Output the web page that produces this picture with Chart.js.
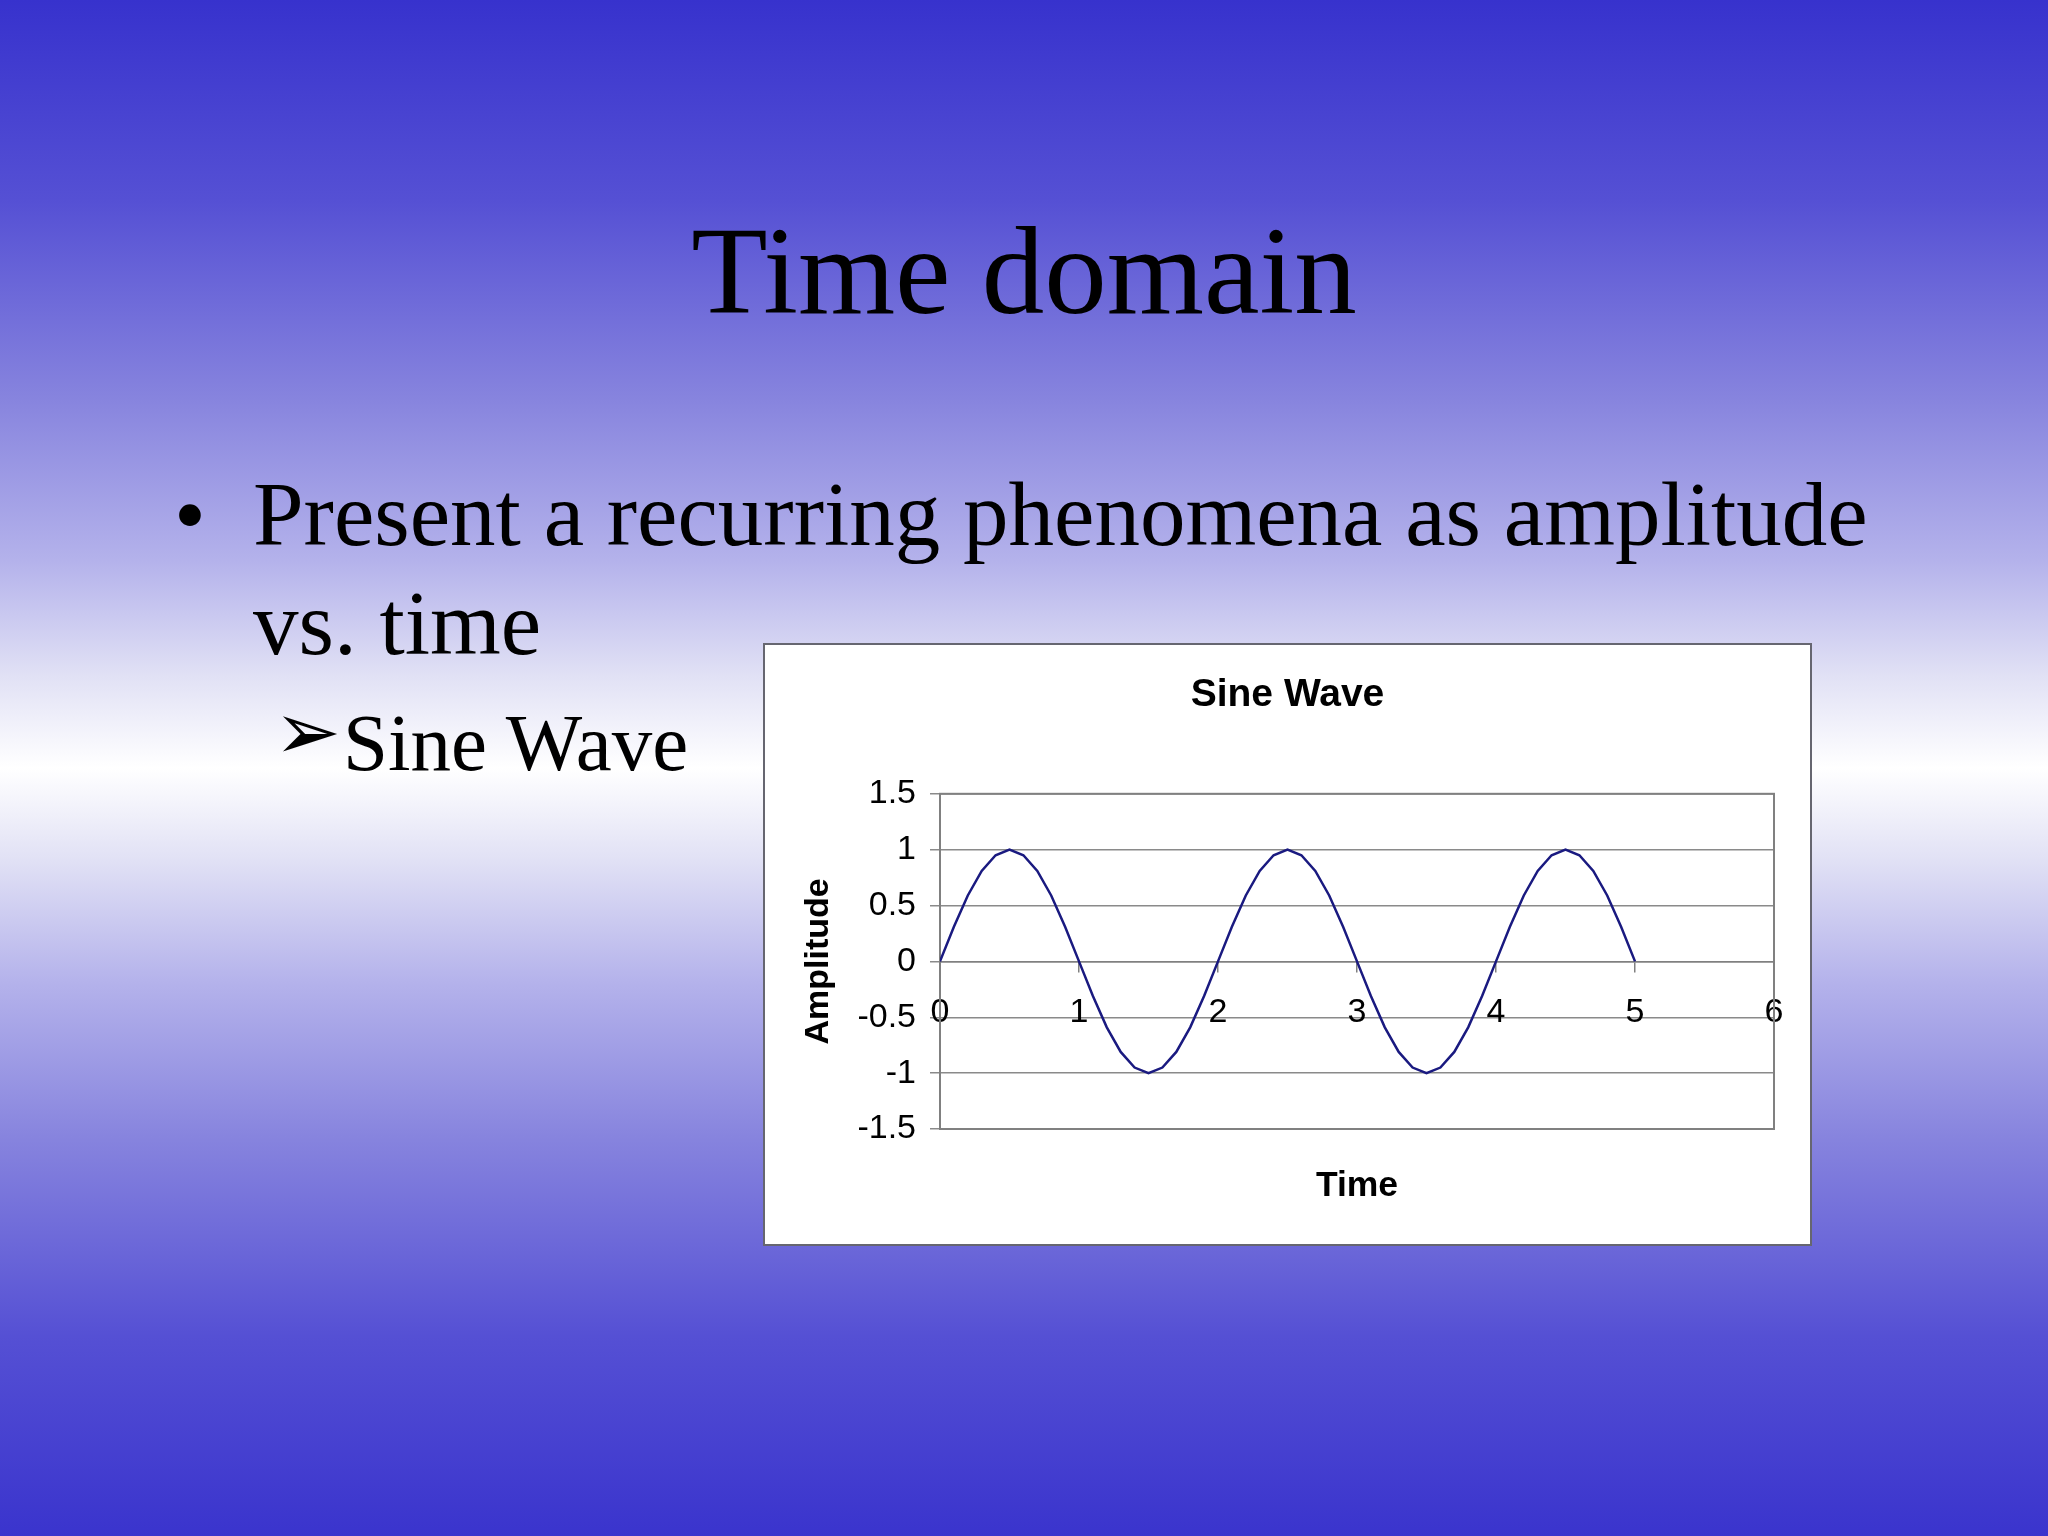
<!DOCTYPE html>
<html>
<head>
<meta charset="utf-8">
<title>Time domain</title>
<script src="https://cdn.jsdelivr.net/npm/chart.js@4.4.1/dist/chart.umd.min.js"></script>
<style>
    html, body { margin: 0; padding: 0; }
    body {
        width: 2048px; height: 1536px; position: relative; overflow: hidden;
        font-family: "Liberation Serif", "Times New Roman", serif; color: #000;
        background: linear-gradient(to bottom,
            rgb(55,50,205) 0%, rgb(85,80,212) 13%, rgb(135,132,222) 26%,
            rgb(180,178,235) 36.5%, rgb(225,225,245) 44%, #ffffff 50%,
            rgb(225,225,245) 56%, rgb(180,178,235) 64%, rgb(135,132,222) 74%,
            rgb(85,80,212) 87%, rgb(58,52,205) 100%);
    }
    .t { position: absolute; white-space: nowrap; line-height: 1; }
    #heading { left: 0; width: 2048px; text-align: center; top: 209px; font-size: 125px; }
    #bullet { left: 174px; top: 469px; font-size: 91px; }
    #line1 { left: 253px; top: 469px; font-size: 91px; }
    #line2 { left: 253px; top: 578px; font-size: 91px; }
    #arrow { left: 274px; top: 692px; font-size: 80px; font-family: "DejaVu Sans", sans-serif; }
    #sub { left: 343px; top: 703px; font-size: 81px; }
    #box {
        position: absolute; left: 763px; top: 643px; width: 1045px; height: 599px;
        background: #fff; border: 2px solid #666670;
    }
    #chart { display: block; }
</style>
</head>
<body>
<div class="t" id="heading">Time domain</div>
<div class="t" id="bullet">•</div>
<div class="t" id="line1">Present a recurring phenomena as amplitude</div>
<div class="t" id="line2">vs. time</div>
<div class="t" id="arrow">➢</div>
<div class="t" id="sub">Sine Wave</div>
<div id="box"><canvas id="chart" width="1045" height="599"></canvas></div>

<script>
var times = [0, 0.1, 0.2, 0.3, 0.4, 0.5, 0.6, 0.7, 0.8, 0.9,
    1, 1.1, 1.2, 1.3, 1.4, 1.5, 1.6, 1.7, 1.8, 1.9,
    2, 2.1, 2.2, 2.3, 2.4, 2.5, 2.6, 2.7, 2.8, 2.9,
    3, 3.1, 3.2, 3.3, 3.4, 3.5, 3.6, 3.7, 3.8, 3.9,
    4, 4.1, 4.2, 4.3, 4.4, 4.5, 4.6, 4.7, 4.8, 4.9, 5];
var amplitude = [0, 0.31, 0.59, 0.81, 0.95, 1, 0.95, 0.81, 0.59, 0.31,
    0, -0.31, -0.59, -0.81, -0.95, -1, -0.95, -0.81, -0.59, -0.31,
    0, 0.31, 0.59, 0.81, 0.95, 1, 0.95, 0.81, 0.59, 0.31,
    0, -0.31, -0.59, -0.81, -0.95, -1, -0.95, -0.81, -0.59, -0.31,
    0, 0.31, 0.59, 0.81, 0.95, 1, 0.95, 0.81, 0.59, 0.31, 0];
var xTicks = [0, 1, 2, 3, 4, 5, 6];
var yTicks = [-1.5, -1, -0.5, 0, 0.5, 1, 1.5];

var points = times.map(function(t, i) {
    return {x: t, y: amplitude[i]};
});

var sansFont = "'Liberation Sans', Arial, sans-serif";

// grey frame round the plot area, like the Excel chart
var plotBorder = {
    id: 'plotBorder',
    beforeDatasetsDraw: function(chart) {
        var a = chart.chartArea;
        var ctx = chart.ctx;
        ctx.save();
        ctx.strokeStyle = '#808080';
        ctx.lineWidth = 2;
        ctx.strokeRect(a.left, a.top, a.right - a.left, a.bottom - a.top);
        ctx.restore();
    }
};

var chartOptions = {
    type: 'line',
    data: {
        datasets: [
            {
                label: 'Amplitude',
                data: points,
                borderColor: '#1a1a80',
                borderWidth: 2.5,
                pointRadius: 0,
                tension: 0,
                fill: false
            }
        ]
    },
    options: {
        responsive: false,
        animation: false,
        layout: {
            padding: {left: 36, right: 36, top: 0, bottom: 0}
        },
        plugins: {
            legend: {display: false},
            tooltip: {enabled: false},
            title: {
                display: true,
                text: 'Sine Wave',
                color: '#000',
                font: {family: sansFont, size: 39, weight: 'bold'},
                padding: {top: 27, bottom: 75}
            }
        },
        scales: {
            x: {
                type: 'linear',
                position: {y: 0},
                min: 0,
                max: 6,
                afterBuildTicks: function(scale) {
                    scale.ticks = xTicks.map(function(v) { return {value: v}; });
                },
                grid: {drawOnChartArea: false, drawTicks: true, tickLength: 10, color: '#808080', lineWidth: 1.5},
                border: {display: true, color: '#808080', width: 1.5},
                ticks: {
                    color: '#000',
                    font: {family: sansFont, size: 34},
                    padding: 21,
                    maxRotation: 0,
                    autoSkip: false,
                    callback: function(v) { return String(v); }
                }
            },
            xTitle: {
                type: 'linear',
                axis: 'x',
                position: 'bottom',
                min: 0,
                max: 6,
                grid: {display: false, drawTicks: false},
                border: {display: false},
                ticks: {display: false},
                title: {
                    display: true,
                    text: 'Time',
                    color: '#000',
                    font: {family: sansFont, size: 35.5, weight: 'bold'},
                    padding: {top: 36, bottom: 36}
                },
                afterFit: function(scale) { scale.height = 115; }
            },
            y: {
                min: -1.5,
                max: 1.5,
                afterBuildTicks: function(scale) {
                    scale.ticks = yTicks.map(function(v) { return {value: v}; });
                },
                grid: {color: '#8a8a8a', lineWidth: 1.5, drawTicks: true, tickLength: 10},
                border: {display: true, color: '#808080', width: 2},
                ticks: {
                    color: '#000',
                    font: {family: sansFont, size: 34},
                    padding: 14,
                    callback: function(v) { return String(v); }
                },
                title: {
                    display: true,
                    text: 'Amplitude',
                    color: '#000',
                    font: {family: sansFont, size: 34, weight: 'bold', lineHeight: 1},
                    padding: {top: 1, bottom: 0}
                },
                afterFit: function(scale) { scale.width = 139; }
            }
        }
    },
    plugins: [plotBorder]
};

var ctx = document.getElementById('chart').getContext('2d');
var chart = new Chart(ctx, chartOptions);
</script>
</body>
</html>
